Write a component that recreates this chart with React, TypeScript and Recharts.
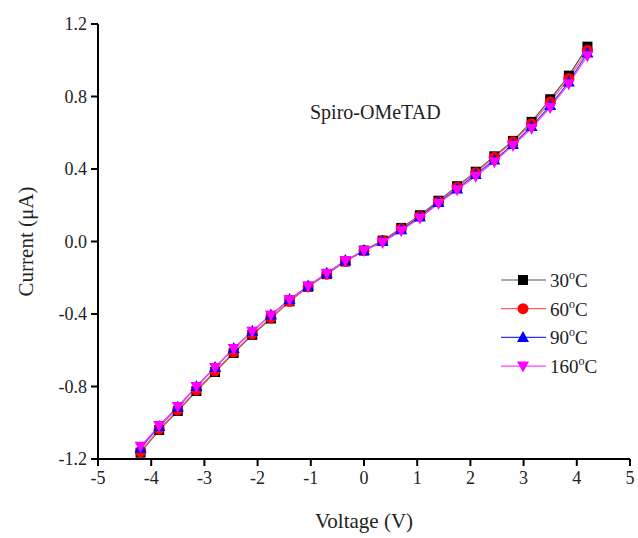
import React from "react";
import { LineChart, Line, XAxis, YAxis } from "recharts";

const voltage = [-4.2, -3.85, -3.5, -3.15, -2.8, -2.45, -2.1, -1.75, -1.4, -1.05, -0.7, -0.35, 0, 0.35, 0.7, 1.05, 1.4, 1.75, 2.1, 2.45, 2.8, 3.15, 3.5, 3.85, 4.2];
const current30 = [-1.165, -1.04, -0.935, -0.825, -0.72, -0.615, -0.515, -0.425, -0.33, -0.25, -0.18, -0.11, -0.05, 0.005, 0.075, 0.145, 0.225, 0.305, 0.385, 0.47, 0.555, 0.66, 0.785, 0.915, 1.075];
const current60 = [-1.16, -1.035, -0.93, -0.82, -0.715, -0.61, -0.51, -0.42, -0.33, -0.25, -0.18, -0.11, -0.05, 0.005, 0.07, 0.14, 0.22, 0.3, 0.38, 0.465, 0.55, 0.65, 0.77, 0.9, 1.055];
const current90 = [-1.14, -1.02, -0.915, -0.8, -0.695, -0.59, -0.495, -0.405, -0.32, -0.245, -0.175, -0.105, -0.05, 0.0, 0.065, 0.135, 0.215, 0.29, 0.37, 0.45, 0.535, 0.635, 0.75, 0.88, 1.04];
const current160 = [-1.13, -1.015, -0.91, -0.8, -0.695, -0.59, -0.495, -0.405, -0.32, -0.245, -0.175, -0.105, -0.05, -0.005, 0.06, 0.13, 0.21, 0.285, 0.36, 0.44, 0.53, 0.625, 0.74, 0.87, 1.025];

const xTicks = [-5, -4, -3, -2, -1, 0, 1, 2, 3, 4, 5];
const yTicks = [-1.2, -0.8, -0.4, 0.0, 0.4, 0.8, 1.2];
const seriesNames = ["30", "60", "90", "160"];

const data = voltage.map((v, i) => ({
  v,
  s30: current30[i],
  s60: current60[i],
  s90: current90[i],
  s160: current160[i],
}));

const FONT = "'Liberation Serif', 'Times New Roman', serif";

type Shape = "square" | "circle" | "up" | "down";

function marker(shape: Shape, cx: number, cy: number, fill: string, key?: string | number) {
  if (shape === "square") return <rect key={key} x={cx - 5} y={cy - 5} width={10} height={10} fill={fill} />;
  if (shape === "circle") return <circle key={key} cx={cx} cy={cy} r={5.5} fill={fill} />;
  if (shape === "up")
    return <path key={key} d={`M${cx},${cy - 6.5} L${cx + 6},${cy + 4.5} L${cx - 6},${cy + 4.5} Z`} fill={fill} />;
  return <path key={key} d={`M${cx},${cy + 6.5} L${cx + 6},${cy - 4.5} L${cx - 6},${cy - 4.5} Z`} fill={fill} />;
}

const makeDot = (shape: Shape, fill: string) => (props: any) => {
  const { cx, cy, index } = props;
  if (cx == null || cy == null) return <g key={index} />;
  return marker(shape, cx, cy, fill, index);
};

const series = [
  { key: "s30", line: "#555555", fill: "#000000", shape: "square" as Shape },
  { key: "s60", line: "#ff6060", fill: "#ff0000", shape: "circle" as Shape },
  { key: "s90", line: "#3030ff", fill: "#0000ff", shape: "up" as Shape },
  { key: "s160", line: "#ff40ff", fill: "#ff00ff", shape: "down" as Shape },
];

const axisLine = { stroke: "#000", strokeWidth: 2 };
const tickStyle = { fill: "#222", fontSize: 18, fontFamily: FONT };

export default function App() {
  return (
    <div style={{ position: "absolute", left: 0, top: 0, width: 638, height: 538, background: "#fff", fontFamily: FONT }}>
      <style>{`.recharts-text, .recharts-cartesian-axis-tick-value, .recharts-label { font-family: ${FONT} !important; }`}</style>
      <LineChart width={638} height={538} data={data} margin={{ top: 24, right: 8, bottom: 29, left: 38 }}>
        <XAxis
          dataKey="v"
          type="number"
          domain={[-5, 5]}
          ticks={xTicks}
          interval={0}
          axisLine={axisLine}
          tickLine={axisLine}
          tickSize={7}
          tickMargin={5}
          height={50}
          tick={tickStyle}
          label={{ value: "Voltage (V)", position: "insideBottom", offset: -19, fill: "#222", fontSize: 21, fontFamily: FONT }}
        />
        <XAxis xAxisId="top" orientation="top" dataKey="v" type="number" domain={[-5, 5]} height={0} tick={false} tickLine={false} axisLine={axisLine} />
        <YAxis
          type="number"
          domain={[-1.2, 1.2]}
          ticks={yTicks}
          interval={0}
          width={60}
          axisLine={axisLine}
          tickLine={axisLine}
          tickSize={7}
          tickMargin={4}
          tickFormatter={(t: number) => t.toFixed(1)}
          tick={tickStyle}
          label={{ value: "Current (\u03bcA)", angle: -90, position: "insideLeft", offset: -12, fill: "#222", fontSize: 21, fontFamily: FONT, style: { textAnchor: "middle" } }}
        />
        <YAxis yAxisId="right" orientation="right" type="number" domain={[-1.2, 1.2]} width={0} tick={false} tickLine={false} axisLine={axisLine} />
        {series.map((s) => (
          <Line
            key={s.key}
            dataKey={s.key}
            type="linear"
            stroke={s.line}
            strokeWidth={1.2}
            dot={makeDot(s.shape, s.fill)}
            activeDot={false}
            isAnimationActive={false}
          />
        ))}
      </LineChart>
      <div style={{ position: "absolute", left: 310, top: 101, fontSize: 20, color: "#222", fontFamily: FONT, whiteSpace: "nowrap" }}>
        Spiro-OMeTAD
      </div>
      <svg style={{ position: "absolute", left: 495, top: 264 }} width={140} height={120}>
        {series.map((s, i) => {
          const y = 16 + i * 28.7;
          return (
            <g key={s.key}>
              <line x1={6} x2={51} y1={y} y2={y} stroke={s.line} strokeWidth={1.2} />
              {marker(s.shape, 28, y, s.fill)}
              <text x={55} y={y + 7} fontSize={19} fontFamily={FONT} fill="#222">
                {seriesNames[i]}
                <tspan fontSize={12} dy={-8}>o</tspan>
                <tspan dy={8}>C</tspan>
              </text>
            </g>
          );
        })}
      </svg>
    </div>
  );
}
